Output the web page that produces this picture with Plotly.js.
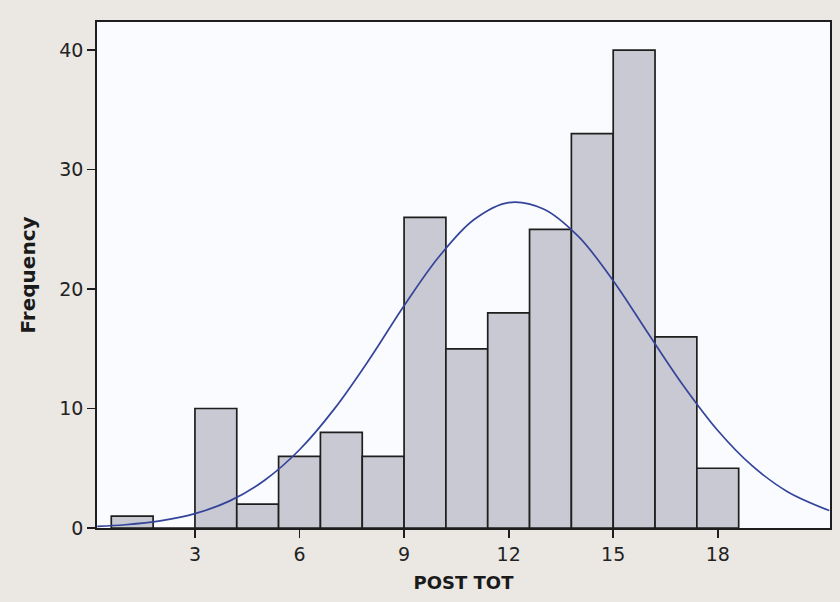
<!DOCTYPE html>
<html>
<head>
<meta charset="utf-8">
<script src="https://cdn.plot.ly/plotly-3.0.1.min.js"></script>
<style>
html,body{margin:0;padding:0;background:#ebe8e4;}
#chart{width:840px;height:602px;}
</style>
</head>
<body>
<div id="chart"></div>
<script>
// Histogram bins (centers) and counts
const binCenters = [1.2, 2.4, 3.6, 4.8, 6.0, 7.2, 8.4, 9.6, 10.8, 12.0, 13.2, 14.4, 15.6, 16.8, 18.0];
const binCounts  = [1, 0, 10, 2, 6, 8, 6, 26, 15, 18, 25, 33, 40, 16, 5];
const binWidth = 1.2;

// Fitted normal curve
const curveX = [0.2, 1, 2, 3, 4, 5, 6, 7, 8, 9, 10, 11, 12, 13, 14, 15, 16, 17, 18, 19, 20, 21.2];
const curveY = [0.14, 0.27, 0.59, 1.2, 2.27, 4.0, 6.55, 9.97, 14.1, 18.6, 22.7, 25.8, 27.24, 26.7, 24.4, 20.7, 16.3, 11.97, 8.16, 5.17, 3.04, 1.46];

const xTicks = [3, 6, 9, 12, 15, 18];
const yTicks = [0, 10, 20, 30, 40];

const tickFont = {family: 'DejaVu Sans, Verdana, sans-serif', size: 19, color: '#222222'};

const data = [
  {
    type: 'bar',
    x: binCenters,
    y: binCounts,
    width: binCenters.map(() => binWidth),
    marker: {color: '#c9c9d3', line: {color: '#1e1e1e', width: 1.7}},
    hoverinfo: 'x+y'
  },
  {
    type: 'scatter',
    mode: 'lines',
    x: curveX,
    y: curveY,
    line: {color: '#34449a', width: 1.7, shape: 'spline'},
    hoverinfo: 'skip'
  }
];

const layout = {
  width: 840,
  height: 602,
  margin: {l: 97, r: 10, t: 22, b: 74},
  paper_bgcolor: '#ebe8e4',
  plot_bgcolor: '#fafbfe',
  showlegend: false,
  bargap: 0,
  xaxis: {
    range: [0.19, 21.22],
    tickvals: xTicks,
    ticktext: xTicks.map(String),
    ticks: 'outside',
    ticklen: 8,
    tickwidth: 1.8,
    tickcolor: '#1e1e1e',
    showgrid: false,
    zeroline: false,
    showline: true,
    linecolor: '#1e1e1e',
    linewidth: 1.8,
    mirror: true,
    tickfont: tickFont,
    title: {text: 'POST TOT', font: {family: 'DejaVu Sans, Verdana, sans-serif', size: 18, color: '#1a1a1a', weight: 'bold'}, standoff: 13}
  },
  yaxis: {
    range: [0, 42.35],
    tickvals: yTicks,
    ticktext: yTicks.map(String),
    ticks: 'outside',
    ticklen: 8,
    tickwidth: 1.8,
    tickcolor: '#1e1e1e',
    showgrid: false,
    zeroline: false,
    showline: true,
    linecolor: '#1e1e1e',
    linewidth: 1.8,
    mirror: true,
    tickfont: tickFont,
    title: {text: 'Frequency', font: {family: 'DejaVu Sans, Verdana, sans-serif', size: 20, color: '#1a1a1a', weight: 'bold'}, standoff: 18}
  }
};

Plotly.newPlot('chart', data, layout, {displayModeBar: false, staticPlot: true});
</script>
</body>
</html>
